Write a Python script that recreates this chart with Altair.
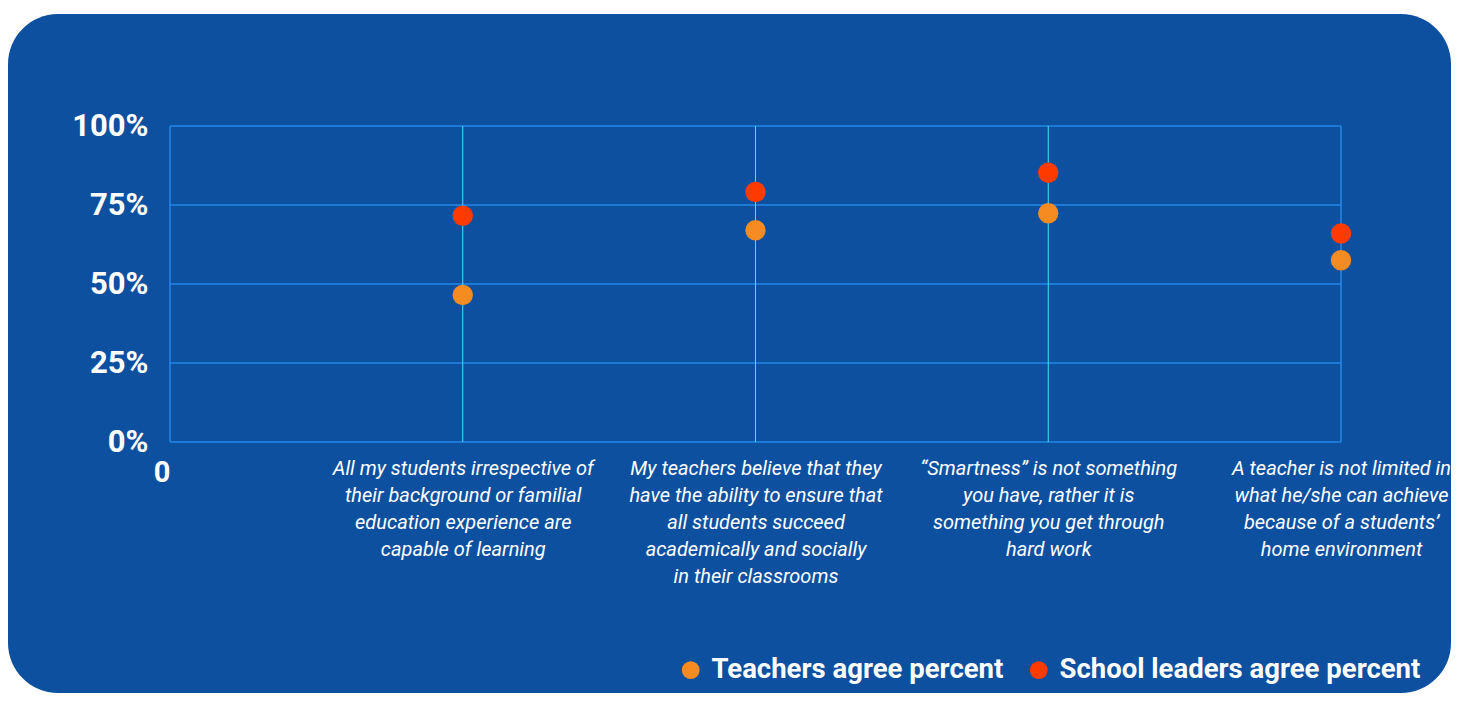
import json
import altair as alt
import pandas as pd

# ---------------- data ----------------
statements = [
    "All my students irrespective of\ntheir background or familial\neducation experience are\ncapable of learning",
    "My teachers believe that they\nhave the ability to ensure that\nall students succeed\nacademically and socially\nin their classrooms",
    "\u201cSmartness\u201d is not something\nyou have, rather it is\nsomething you get through\nhard work",
    "A teacher is not limited in\nwhat he/she can achieve\nbecause of a students\u2019\nhome environment",
]
positions = [1, 2, 3, 4]
teachers = [46.5, 67.0, 72.4, 57.5]
leaders = [71.6, 79.1, 85.2, 66.0]
series = ["Teachers agree percent", "School leaders agree percent"]
y_ticks = [0, 25, 50, 75, 100]
x_ticks = [0, 1, 2, 3, 4]
zero_label = "0"

# ---------------- style ----------------
BG = "#0D50A0"
GRID_BLUE = "#2289E8"
CYAN = "#40E4F2"
ORANGE = "#F68B22"
RED = "#FF3B00"
W, H = 1171, 316
PAD = {"left": 162, "top": 118, "right": 110, "bottom": 251}

rows = []
for p, s, t, l in zip(positions, statements, teachers, leaders):
    rows.append({"pos": p, "series": series[0], "value": t})
    rows.append({"pos": p, "series": series[1], "value": l})
points_df = pd.DataFrame(rows)

label_lines = [[zero_label]] + [s.split("\n") for s in statements]
x_label_expr = json.dumps(label_lines, ensure_ascii=False) + "[datum.value]"

is_zero = "datum.value == 0"
x_axis = alt.Axis(
    values=x_ticks,
    labelExpr=x_label_expr,
    title=None,
    grid=False,
    domain=False,
    ticks=False,
    labelFlush=False,
    labelOverlap=False,
    labelColor="white",
    labelFont="Roboto",
    labelFontSize={"condition": {"test": is_zero, "value": 29}, "value": 20},
    labelFontWeight={"condition": {"test": is_zero, "value": "bold"}, "value": "normal"},
    labelFontStyle={"condition": {"test": is_zero, "value": "normal"}, "value": "italic"},
    labelAlign={"condition": {"test": is_zero, "value": "right"}, "value": "center"},
    labelBaseline="top",
    labelLineHeight=27,
    labelPadding=16,
    labelLimit=0,
    zindex=1,
)
y_axis = alt.Axis(
    values=y_ticks,
    labelExpr="datum.value + '%'",
    title=None,
    grid=False,
    domain=False,
    ticks=False,
    labelColor="white",
    labelFont="Roboto",
    labelFontSize=31,
    labelFontWeight="bold",
    labelPadding=22,
    zindex=1,
)
x_scale = alt.Scale(domain=[0, 4], nice=False, zero=False)
y_scale = alt.Scale(domain=[0, 100], nice=False)

bg = alt.Chart(alt.Data(values=[{"panel": 1}])).mark_rect(
    cornerRadius=50, color=BG
).encode(
    x=alt.value(-PAD["left"]),
    x2=alt.value(W + PAD["right"]),
    y=alt.value(-112),
    y2=alt.value(H + PAD["bottom"]),
)

hrules = alt.Chart(pd.DataFrame({"value": y_ticks})).mark_rule(
    color=GRID_BLUE, strokeWidth=1.5
).encode(y=alt.Y("value:Q", scale=y_scale, axis=y_axis))

vrules = alt.Chart(pd.DataFrame({"pos": x_ticks})).mark_rule().encode(
    x=alt.X("pos:Q", scale=x_scale, axis=x_axis),
    color=alt.condition("datum.pos == 0 || datum.pos == 4", alt.value(GRID_BLUE), alt.value(CYAN)),
    strokeWidth=alt.condition("datum.pos == 0 || datum.pos == 4", alt.value(1.5), alt.value(1)),
)

points = alt.Chart(points_df).mark_circle(size=415, opacity=1).encode(
    x=alt.X("pos:Q", scale=x_scale, axis=x_axis),
    y=alt.Y("value:Q", scale=y_scale, axis=y_axis),
    color=alt.Color(
        "series:N",
        scale=alt.Scale(domain=series, range=[ORANGE, RED]),
        legend=alt.Legend(
            title=None,
            orient="none",
            direction="horizontal",
            legendX=507,
            legendY=530,
            symbolType="circle",
            symbolSize=314,
            symbolOpacity=1,
            symbolStrokeWidth=0,
            labelFont="Roboto",
            labelFontSize=27.5,
            labelFontWeight="bold",
            labelColor="white",
            labelOffset=7,
            columnPadding=21,
            labelLimit=0,
            padding=0,
        ),
    ),
)

chart = (
    alt.layer(bg, hrules, vrules, points)
    .properties(width=W, height=H, autosize="none", padding=PAD, background="white")
    .configure_view(stroke=None)
)

chart.save("out.html", embed_options={"renderer": "svg", "actions": False})
